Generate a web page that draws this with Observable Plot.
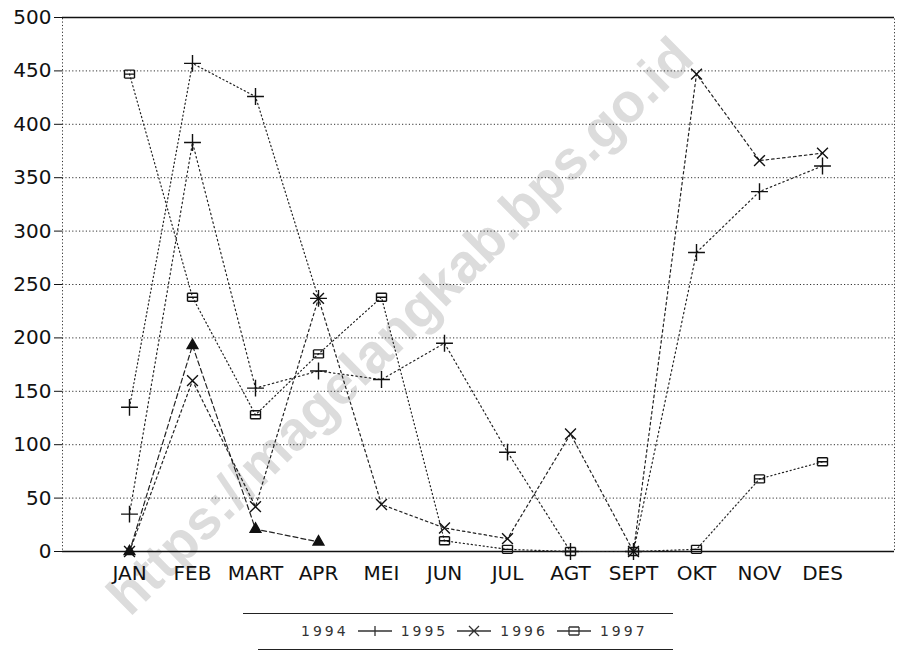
<!DOCTYPE html>
<html>
<head>
<meta charset="utf-8">
<script src="https://cdn.jsdelivr.net/npm/d3@7"></script>
<script src="https://cdn.jsdelivr.net/npm/@observablehq/plot@0.6"></script>
<style>
  body { margin: 0; background: #fff; }
  #page { position: relative; width: 898px; height: 654px; overflow: hidden; }
  #wm { position: absolute; left: 400px; top: 326px; transform: translate(-50%, -50%) rotate(-44.5deg);
    white-space: nowrap; line-height: 1; font-family: "Liberation Sans", Arial, sans-serif; font-weight: bold;
    font-size: 55px; color: #dcdcdc; z-index: 0; }
  #chart { position: relative; width: 898px; z-index: 1; }
  #legend { position: relative; width: 898px; height: 54px; font-family: "DejaVu Sans", sans-serif; z-index: 1; }
  #legend .rule { position: absolute; border-top: 1.5px solid #222; height: 0; }
  #legend .items { position: absolute; left: 301px; top: 23px; display: flex; align-items: center; gap: 9px;
    font-size: 14px; letter-spacing: 3px; color: #333; }
</style>
</head>
<body>
<div id="page">
  <div id="wm"></div>
  <div id="chart"></div>
  <div id="legend"></div>
</div>
<script>
// ---- data ----
const months = ["JAN","FEB","MART","APR","MEI","JUN","JUL","AGT","SEPT","OKT","NOV","DES"];
const y1994 = [0, 193, 21, 9, null, null, null, null, null, null, null, null];
const y1995 = [35, 383, 153, 169, 161, 195, 93, 0, 0, 280, 337, 361];
const y1996 = [0, 160, 42, 237, 44, 22, 12, 110, 0, 447, 366, 373];
const y1997 = [447, 238, 128, 185, 238, 10, 2, 0, 0, 2, 68, 84];
const yExtra = [135, 457, 426, 237, null, null, null, null, null, null, null, null];
const legendLabels = ["1994", "1995", "1996", "1997"];
const yTicks = [0, 50, 100, 150, 200, 250, 300, 350, 400, 450, 500];
const gridValues = [50, 100, 150, 200, 250, 300, 350, 400, 450];
const watermark = "https://magelangkab.bps.go.id";

document.getElementById("wm").textContent = watermark;

// custom "box with bars" marker
const barBox = {
  draw(ctx) {
    const w = 5, h = 4;
    ctx.moveTo(-w, -h); ctx.lineTo(w, -h);
    ctx.moveTo(-w, 0); ctx.lineTo(w, 0);
    ctx.moveTo(-w, h); ctx.lineTo(w, h);
    ctx.moveTo(-w, -h); ctx.lineTo(-w, h);
    ctx.moveTo(w, -h); ctx.lineTo(w, h);
  }
};

const series = [
  {name: "1994", values: y1994, symbol: "triangle", r: 4, fill: "#111", dash: "5,3"},
  {name: "1995", values: y1995, symbol: "plus", r: 5.5, fill: "none", dash: "1.5,3"},
  {name: "1996", values: y1996, symbol: "times", r: 5, fill: "none", dash: "2.5,3"},
  {name: "1997", values: y1997, symbol: barBox, r: 5, fill: "none", dash: "1.2,2.8"},
  {name: "extra", values: yExtra, symbol: "plus", r: 5.5, fill: "none", dash: "1.2,2.8"}
];

const rows = series.map(s => s.values.map((v, i) => ({series: s.name, month: months[i], value: v})));

const marks = [
  Plot.ruleY(gridValues, {stroke: "#333", strokeDasharray: "1.2,2.2", strokeWidth: 1}),
  Plot.frame({stroke: "#333", strokeDasharray: "1.2,2.2"}),
  Plot.ruleY([0, 500], {stroke: "#111", strokeWidth: 1.5})
];
series.forEach((s, k) => {
  marks.push(Plot.line(rows[k], {x: "month", y: "value", stroke: "#222", strokeWidth: 1.2, strokeDasharray: s.dash}));
  marks.push(Plot.dot(rows[k], {x: "month", y: "value", symbol: s.symbol, r: s.r, stroke: "#111",
    fill: s.fill, strokeWidth: 1.4}));
});

const chart = Plot.plot({
  width: 898, height: 600,
  marginLeft: 62, marginRight: 4, marginTop: 17, marginBottom: 49,
  style: {fontFamily: "DejaVu Sans, sans-serif", fontSize: "20px", color: "#111", background: "transparent"},
  x: {type: "point", domain: months, range: [92, 859], tickSize: 0, tickPadding: 14, label: null},
  y: {domain: [0, 500], ticks: yTicks, tickSize: 8, tickPadding: 3, label: null},
  marks
});
document.getElementById("chart").appendChild(chart);

// ---- legend ----
const legend = document.getElementById("legend");
legend.innerHTML = '<div class="rule" style="left:243px;width:430px;top:13px"></div>' +
  '<div class="rule" style="left:258px;width:415px;top:49px"></div>';
const swatchPaths = [
  "M0,6H34M17,1V11",
  "M0,6H34M12,1L22,11M12,11L22,1",
  "M0,6H34M12,2H22M12,10H22M12,2V10M22,2V10"
];
const items = document.createElement("div");
items.className = "items";
legendLabels.forEach((lab, i) => {
  const t = document.createElement("span");
  t.textContent = lab;
  items.appendChild(t);
  if (i < swatchPaths.length) {
    const ns = "http://www.w3.org/2000/svg";
    const svg = document.createElementNS(ns, "svg");
    svg.setAttribute("width", 34); svg.setAttribute("height", 12);
    const p = document.createElementNS(ns, "path");
    p.setAttribute("d", swatchPaths[i]);
    p.setAttribute("stroke", "#333"); p.setAttribute("fill", "none"); p.setAttribute("stroke-width", "1.3");
    svg.appendChild(p);
    items.appendChild(svg);
  }
});
legend.appendChild(items);
</script>
</body>
</html>
